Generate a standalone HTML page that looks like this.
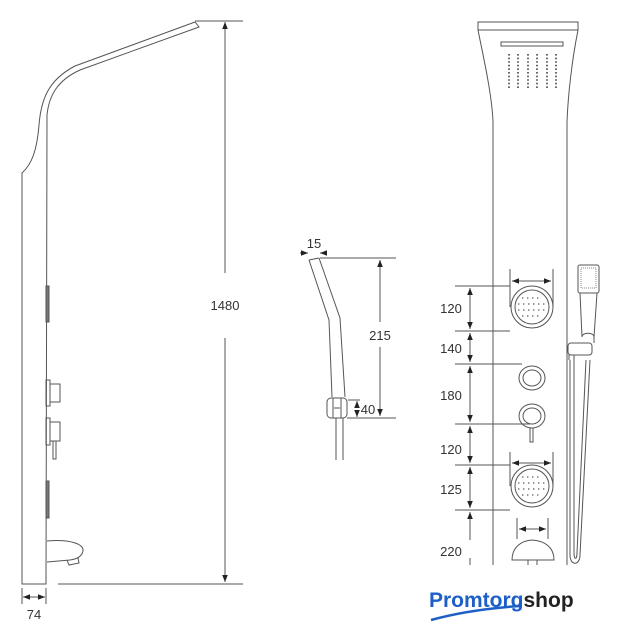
<!DOCTYPE html>
<html><head><meta charset="utf-8"><style>
html,body{margin:0;padding:0;background:#fff;}
svg{display:block;}
text{font-family:"Liberation Sans",Arial,sans-serif;fill:#333;}
</style></head><body>
<svg width="620" height="640" viewBox="0 0 620 640" xmlns="http://www.w3.org/2000/svg">
<defs>
<marker id="a" viewBox="0 0 10 10" refX="10" refY="5" markerWidth="7" markerHeight="7" orient="auto-start-reverse"><path d="M0,1 L10,5 L0,9 z" fill="#222"/></marker>
</defs>
<g fill="none" stroke="#555" stroke-width="1">
<!-- LEFT side view -->
<path d="M22,584 L22,173 C32,164 37,150 39,125 C41,100 48,80 75,66 L195,22 L199,27 L80,70 C58,80 49,95 47,115 L46,584 Z"/>
<line x1="195" y1="21" x2="243" y2="21"/>
<line x1="58" y1="584" x2="243" y2="584"/>
<line x1="225" y1="22" x2="225" y2="273" marker-start="url(#a)"/>
<line x1="225" y1="338" x2="225" y2="582" marker-end="url(#a)"/>
<rect x="46" y="286" width="3" height="36" fill="#777"/>
<rect x="46" y="380" width="4" height="26"/>
<rect x="50" y="384" width="10" height="18"/>
<rect x="46" y="418" width="4" height="27"/>
<rect x="50" y="422" width="10" height="19"/>
<rect x="53" y="441" width="3" height="18"/>
<rect x="46" y="481" width="3" height="37" fill="#777"/>
<path d="M47,541 C70,539 84,544 83,551 C82,556 78,559 70,560 L47,562"/>
<path d="M67,560 L69,565 L79,563 L78,558"/>
<line x1="22" y1="588" x2="22" y2="604"/>
<line x1="46" y1="588" x2="46" y2="604"/>
<line x1="23" y1="597" x2="45" y2="597" marker-start="url(#a)" marker-end="url(#a)"/>

<!-- MIDDLE hand shower -->
<path d="M309,260 L329,320 L332,397"/>
<path d="M319,258 L340,318 L345,397"/>
<line x1="309" y1="260" x2="319" y2="258"/>
<rect x="327" y="398" width="20" height="20" rx="4"/>
<line x1="333" y1="398" x2="333" y2="418"/>
<line x1="341" y1="398" x2="341" y2="418"/>
<line x1="334" y1="408" x2="340" y2="408"/>
<line x1="336" y1="418" x2="336" y2="460"/>
<line x1="343" y1="418" x2="343" y2="460"/>
<line x1="320" y1="258" x2="396" y2="258"/>
<line x1="347" y1="418" x2="396" y2="418"/>
<line x1="380" y1="260" x2="380" y2="322" marker-start="url(#a)"/>
<line x1="380" y1="347" x2="380" y2="416" marker-end="url(#a)"/>
<line x1="300" y1="253" x2="308" y2="253" marker-end="url(#a)"/>
<line x1="327" y1="253" x2="320" y2="253" marker-end="url(#a)"/>
<line x1="357" y1="401" x2="357" y2="407" marker-start="url(#a)"/>
<line x1="357" y1="411" x2="357" y2="417" marker-end="url(#a)"/>
<line x1="348" y1="400" x2="360" y2="400"/>

<!-- RIGHT front view -->
<rect x="478" y="22" width="100" height="8"/>
<path d="M478,30 C484,60 492,95 493,122 L493,565"/>
<path d="M578,30 C572,60 568,95 567,122 L567,565"/>
<rect x="501" y="42" width="62" height="4"/>
<g>
<line x1="455" y1="286" x2="510" y2="286"/>
<line x1="455" y1="331" x2="510" y2="331"/>
<line x1="455" y1="364" x2="522" y2="364"/>
<line x1="455" y1="424" x2="530" y2="424"/>
<line x1="455" y1="465" x2="510" y2="465"/>
<line x1="455" y1="510" x2="510" y2="510"/>
<line x1="470" y1="288" x2="470" y2="329" marker-start="url(#a)" marker-end="url(#a)"/>
<line x1="470" y1="333" x2="470" y2="362" marker-start="url(#a)" marker-end="url(#a)"/>
<line x1="470" y1="366" x2="470" y2="422" marker-start="url(#a)" marker-end="url(#a)"/>
<line x1="470" y1="426" x2="470" y2="463" marker-start="url(#a)" marker-end="url(#a)"/>
<line x1="470" y1="467" x2="470" y2="508" marker-start="url(#a)" marker-end="url(#a)"/>
<line x1="470" y1="512" x2="470" y2="540" marker-start="url(#a)"/>
<line x1="470" y1="558" x2="470" y2="565"/>
</g>
<line x1="510" y1="269" x2="510" y2="307"/>
<line x1="553" y1="269" x2="553" y2="307"/>
<line x1="512" y1="281" x2="551" y2="281" marker-start="url(#a)" marker-end="url(#a)"/>
<circle cx="532" cy="307" r="21"/>
<circle cx="532" cy="307" r="17"/>
<ellipse cx="532" cy="378" rx="13" ry="12"/>
<ellipse cx="532" cy="378" rx="9" ry="8"/>
<ellipse cx="532" cy="416" rx="13" ry="12"/>
<ellipse cx="532" cy="416" rx="9" ry="8"/>
<rect x="530" y="428" width="3" height="14"/>
<line x1="510" y1="452" x2="510" y2="486"/>
<line x1="553" y1="452" x2="553" y2="486"/>
<line x1="512" y1="463" x2="551" y2="463" marker-start="url(#a)" marker-end="url(#a)"/>
<circle cx="532" cy="486" r="21"/>
<circle cx="532" cy="486" r="17"/>
<line x1="517" y1="518" x2="517" y2="539"/>
<line x1="548" y1="518" x2="548" y2="539"/>
<line x1="519" y1="529" x2="546" y2="529" marker-start="url(#a)" marker-end="url(#a)"/>
<path d="M512,560 C512,548 520,541 532,540 C546,541 554,548 554,560 Z"/>
<line x1="528" y1="560" x2="528" y2="565"/><line x1="537" y1="560" x2="537" y2="565"/>
<rect x="578" y="265" width="21" height="28" rx="2"/>
<rect x="581" y="268" width="15" height="20" stroke="#888" stroke-dasharray="1 1"/>
<path d="M580,293 L582,337 M597,293 L594,337"/>
<path d="M582,337 C582,332 594,332 594,337 L594,343"/>
<rect x="568" y="343" width="24" height="12" rx="3"/>
<line x1="569" y1="355" x2="569" y2="360"/><line x1="574" y1="355" x2="574" y2="360"/>
<path d="M570,360 L570,555 C570,566 580,566 580,555 L590,360"/>
<path d="M574,360 L574,553 C574,560 577,560 577,553 L586,360"/>
</g>
<g>
<path d="M509,54 v35 M518,54 v35 M528,54 v35 M537,54 v35 M547,54 v35 M556,54 v35" stroke="#444" stroke-width="1.6" stroke-dasharray="1.6 2"/>
<g stroke="#777" stroke-width="1.6" stroke-dasharray="1.4 3.6">
<path d="M522,298 h20 M518,304 h28 M518,310 h28 M522,316 h20"/>
<path d="M522,477 h20 M518,483 h28 M518,489 h28 M522,495 h20"/>
</g>
</g>
<g font-size="13">
<text x="225" y="310" text-anchor="middle">1480</text>
<text x="34" y="619" text-anchor="middle">74</text>
<text x="314" y="248" text-anchor="middle">15</text>
<text x="380" y="340" text-anchor="middle">215</text>
<text x="368" y="414" text-anchor="middle">40</text>
<text x="451" y="313" text-anchor="middle">120</text>
<text x="451" y="353" text-anchor="middle">140</text>
<text x="451" y="400" text-anchor="middle">180</text>
<text x="451" y="454" text-anchor="middle">120</text>
<text x="451" y="494" text-anchor="middle">125</text>
<text x="451" y="556" text-anchor="middle">220</text>
</g>
<text x="429" y="607" font-size="21" font-weight="bold" style="fill:#1d5fc7">Promtorg<tspan style="fill:#222">shop</tspan></text>
<path d="M431,620 C460,612 490,608 520,606" stroke="#1d5fc7" stroke-width="2.5" fill="none"/>
</svg>
</body></html>
